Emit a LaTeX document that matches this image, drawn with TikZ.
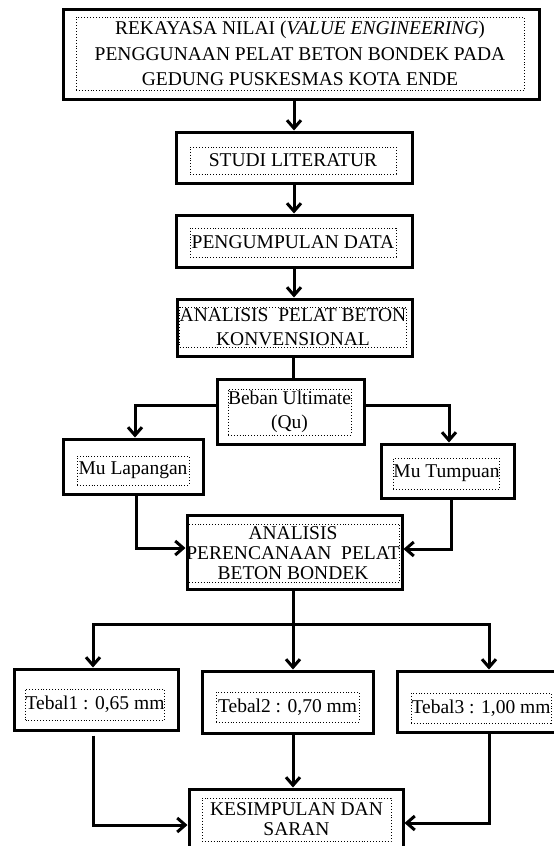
\documentclass[tikz,border=0pt]{standalone}
\usepackage{fontspec}
\setmainfont{Liberation Serif}
\usetikzlibrary{arrows.meta}

\tikzset{
    bingkai/.style={draw, line width=3pt, inner sep=0pt},
    titik/.style={draw, dotted, line width=0.9pt, inner sep=0pt, align=center,
        font=\fontsize{19.5}{24}\selectfont},
    panah/.style={-{Straight Barb[length=8pt,width=14pt]}, line width=3pt},
    garis/.style={line width=3pt}
}

\begin{document}
\begin{tikzpicture}[x=1pt, y=-1pt]
    \useasboundingbox (0,0) rectangle (554,846);
    \clip (0,0) rectangle (554,846);
    % kotak luar
    \path
    (301,54.25) node[bingkai, minimum width=476, minimum height=89.5] (judul) {}
    (294,157.5) node[bingkai, minimum width=236, minimum height=51] (studi) {}
    (294,241) node[bingkai, minimum width=236, minimum height=52] (data) {}
    (294.5,327.5) node[bingkai, minimum width=235, minimum height=57] (konv) {}
    (290.5,411.5) node[bingkai, minimum width=147, minimum height=65] (beban) {}
    (133,466.5) node[bingkai, minimum width=140, minimum height=55] (lap) {}
    (447.5,471) node[bingkai, minimum width=133, minimum height=54] (tump) {}
    (294.5,552) node[bingkai, minimum width=215, minimum height=74] (bondek) {}
    (96,699.5) node[bingkai, minimum width=164, minimum height=61] (tebal1) {}
    (287.5,702) node[bingkai, minimum width=171, minimum height=62] (tebal2) {}
    (482.5,701.5) node[bingkai, minimum width=171, minimum height=61] (tebal3) {}
    (296,829.5) node[bingkai, minimum width=214, minimum height=81] (simpul) {}
    ;
    % kotak titik-titik dengan teks
    \path
    (300,53.5) node[titik, minimum width=448, minimum height=73, font=\fontsize{19.5}{25.5}\selectfont] (judulT)
        {REKAYASA NILAI (\textit{VALUE ENGINEERING})\\PENGGUNAAN PELAT BETON BONDEK PADA\\GEDUNG PUSKESMAS KOTA ENDE}
    (293,160.5) node[titik, minimum width=206, minimum height=27] (studiT) {STUDI LITERATUR}
    (293,242.5) node[titik, minimum width=206, minimum height=29] (dataT) {PENGUMPULAN DATA}
    (293,327) node[titik, minimum width=206, minimum height=40] (konvT) {ANALISIS\ \ PELAT BETON\\KONVENSIONAL}
    (289.5,412) node[titik, minimum width=121, minimum height=46] (bebanT) {Beban Ultimate\\(Qu)}
    (133,470.5) node[titik, minimum width=112, minimum height=29] (lapT) {Mu Lapangan}
    (446.5,473.5) node[titik, minimum width=105, minimum height=31] (tumpT) {Mu Tumpuan}
    (293,553) node[titik, minimum width=188, minimum height=58, font=\fontsize{19.5}{20}\selectfont] (bondekT)
        {ANALISIS\\PERENCANAAN\ \ PELAT\\BETON BONDEK}
    (95,704.5) node[titik, minimum width=136, minimum height=31] (tebal1T) {Tebal1 : 0,65 mm}
    (287.5,707) node[titik, minimum width=143, minimum height=30] (tebal2T) {Tebal2 : 0,70 mm}
    (481,708) node[titik, minimum width=140, minimum height=30] (tebal3T) {Tebal3 : 1,00 mm}
    (296.5,819.5) node[titik, minimum width=189, minimum height=43, font=\fontsize{19.5}{20}\selectfont] (simpulT)
        {KESIMPULAN DAN\\SARAN}
    ;
    % penghubung
    \coordinate (cabang) at (293,624);
    \draw[panah] (judul.south -| studi) -- (studi.north);
    \draw[panah] (studi) ++(0,25.5) -- (data.north);
    \draw[panah] (data.south) -- (konv.north -| data);
    \draw[garis] (konv.south) ++(-1.5,0) -- ++(0,23);
    \draw[panah] ([yshift=6.5pt]beban.west) -| ([xshift=2pt]lap.north);
    \draw[panah] ([yshift=6.5pt]beban.east) -| ([xshift=1.5pt]tump.north);
    \draw[panah] ([xshift=3pt]lap.south) |- ([yshift=4pt]bondek.west);
    \draw[panah] ([xshift=3.5pt]tump.south) |- ([yshift=3pt]bondek.east);
    \draw[garis] (bondek.south -| cabang) -- (cabang);
    \draw[panah] (cabang) -| ([xshift=-3pt]tebal1.north);
    \draw[panah] (cabang) -- (cabang |- tebal2.north);
    \draw[panah] (cabang) -| ([xshift=6.5pt]tebal3.north);
    \draw[panah] ([xshift=-3pt, yshift=-4pt]tebal1.south) |- ([yshift=4.5pt]simpul.west);
    \draw[panah] (cabang |- tebal2.south) -- (cabang |- simpul.north);
    \draw[panah] ([xshift=6.5pt]tebal3.south) |- ([yshift=6.5pt]simpul.east);
\end{tikzpicture}
\end{document}
